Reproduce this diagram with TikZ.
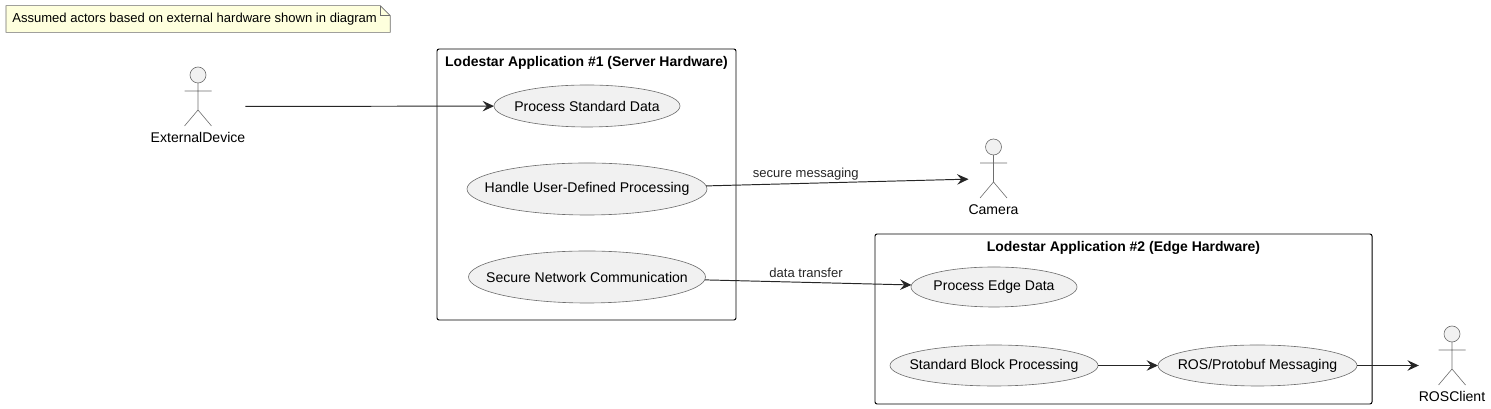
\documentclass[tikz,border=0pt]{standalone}
\usepackage{fontspec}
\setmainfont{Liberation Sans}
\usetikzlibrary{arrows.meta,positioning,shapes.geometric,backgrounds,calc}
\definecolor{UCFill}{RGB}{241,241,241}
\definecolor{UCLine}{RGB}{110,110,110}
\definecolor{NoteFill}{RGB}{254,255,221}
\tikzset{
  usecase/.style={draw=UCLine,fill=UCFill,ellipse,inner sep=0,outer sep=0,line width=.35pt,font=\fontsize{8}{9}\selectfont},
  package/.style={draw=black,rounded corners=1.2pt,line width=.55pt,inner sep=0,outer sep=0},
  pkgtitle/.style={inner sep=0,font=\fontsize{7.95}{9}\selectfont\bfseries},
  actor/.style={inner sep=0,outer sep=0,text height=1.52cm,text depth=.06cm,font=\fontsize{8}{9}\selectfont},
  actorline/.style={draw=UCLine,fill=UCFill,line width=.35pt},
  edgelabel/.style={inner sep=0,font=\fontsize{7.42}{9}\selectfont},
  flow/.style={->,line width=.55pt,black!85}
}
\newcommand{\uctext}[1]{\makebox[0pt]{#1}}
\newcommand{\stickman}[1]{
  \draw[actorline,shift={(#1.north)}] (0,-.16) circle (.16);
  \draw[actorline,fill=none,shift={(#1.north)}] (0,-.32) -- (0,-.86) (-.27,-.48) -- (.27,-.48) (-.27,-1.18) -- (0,-.86) -- (.27,-1.18);
}
\begin{document}
\begin{tikzpicture}[>={Stealth[length=6.5pt,width=6pt,inset=2.4pt]}]
      \useasboundingbox (0,0) rectangle (29.82,8.18);
      \node[inner xsep=.12cm,inner ysep=0,font=\fontsize{7.42}{9}\selectfont,minimum height=.52cm,anchor=west] (note) at (.12,7.80) {Assumed actors based on external hardware shown in diagram};
      \coordinate (notecorner) at ($(note.north east)+(.14,0)$);
      \begin{scope}[on background layer]
        \draw[actorline,fill=NoteFill] (note.south west) -- (note.north west) -- ($(notecorner)+(-.2,0)$) -- ($(notecorner)+(0,-.2)$) -- (notecorner |- note.south) -- cycle;
        \draw[actorline,fill=none] ($(notecorner)+(-.2,0)$) -- ($(notecorner)+(-.2,-.2)$) -- ($(notecorner)+(0,-.2)$);
      \end{scope}
      % packages
      \node[package,minimum width=5.98cm,minimum height=5.42cm] (appone) at (11.73,4.49) {};
      \node[package,minimum width=9.94cm,minimum height=3.40cm] (apptwo) at (22.47,1.80) {};
      \node[pkgtitle,below=.15cm of appone.north] (apponetitle) {Lodestar Application \#1 (Server Hardware)};
      \node[pkgtitle,below=.15cm of apptwo.north] (apptwotitle) {Lodestar Application \#2 (Edge Hardware)};
      % use cases
      \node[usecase,minimum width=3.72cm,minimum height=.84cm] (standard) at (11.74,6.06) {\uctext{Process Standard Data}};
      \node[usecase,minimum width=4.80cm,minimum height=1.04cm] (handle) at (11.74,4.40) {\uctext{Handle User-Defined Processing}};
      \node[usecase,minimum width=4.74cm,minimum height=1.04cm] (secure) at (11.74,2.64) {\uctext{Secure Network Communication}};
      \node[usecase,minimum width=3.32cm,minimum height=.80cm] (edge) at (19.88,2.44) {\uctext{Process Edge Data}};
      \node[usecase,minimum width=4.16cm,minimum height=.82cm] (block) at (19.88,.87) {\uctext{Standard Block Processing}};
      \node[usecase,minimum width=3.98cm,minimum height=.82cm] (ros) at (25.15,.87) {\uctext{ROS/Protobuf Messaging}};
      % actors
      \node[actor] (external) at (3.96,6.05) {ExternalDevice};
      \node[actor] (camera) at (19.87,4.61) {Camera};
      \node[actor] (rosclient) at (29.04,.87) {ROSClient};
      \foreach \n in {external,camera,rosclient} {
        \stickman{\n}
      }
      \draw[flow] (external) -- (standard);
      \draw[flow] (handle) -- node[edgelabel,pos=.38,above=.05cm] (securelabel) {secure messaging} (camera);
      \draw[flow] (secure) -- node[edgelabel,pos=.49,above=.08cm] (transferlabel) {data transfer} (edge);
      \draw[flow] (block) -- (ros);
      \draw[flow] (ros) -- (rosclient);
    \end{tikzpicture}
\end{document}
